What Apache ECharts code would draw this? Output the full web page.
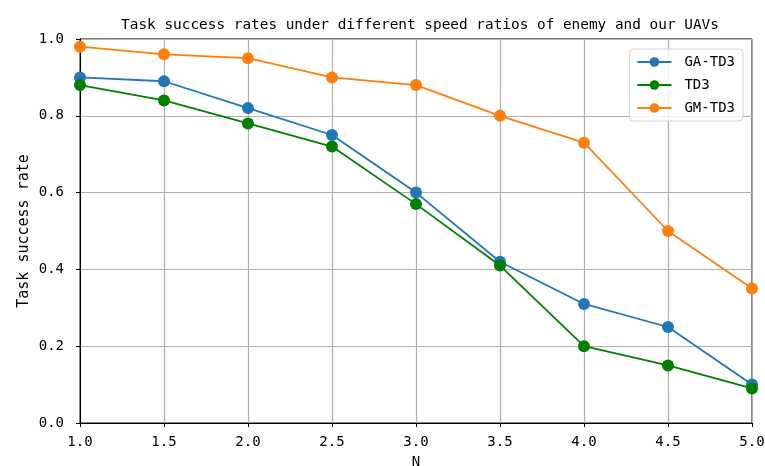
<!DOCTYPE html>
<html>
<head>
<meta charset="utf-8">
<script src="https://cdn.jsdelivr.net/npm/echarts@6/dist/echarts.min.js"></script>
<style>html,body{margin:0;padding:0;background:#fff;}#c{width:765px;height:466px;}</style>
</head>
<body>
<div id="c"></div>
<script>
const xValues = [1.0, 1.5, 2.0, 2.5, 3.0, 3.5, 4.0, 4.5, 5.0];
const gaTD3 = [0.90, 0.89, 0.82, 0.75, 0.60, 0.42, 0.31, 0.25, 0.10];
const td3 = [0.88, 0.84, 0.78, 0.72, 0.57, 0.41, 0.20, 0.15, 0.09];
const gmTD3 = [0.98, 0.96, 0.95, 0.90, 0.88, 0.80, 0.73, 0.50, 0.35];
const seriesNames = ['GA-TD3', 'TD3', 'GM-TD3'];
const seriesColors = ['#1f77b4', '#008000', '#ff7f0e'];
const titleText = 'Task success rates under different speed ratios of enemy and our UAVs';

const FONT = 'DejaVu Sans Mono';
const pair = arr => xValues.map((x, i) => [x, arr[i]]);
const chart = echarts.init(document.getElementById('c'), null, {renderer: 'canvas'});
const mk = (name, data, color) => ({
  name, type: 'line', data: pair(data),
  symbol: 'circle', symbolSize: 12,
  lineStyle: {color, width: 1.8},
  itemStyle: {color},
  emphasis: {disabled: true},
  clip: true,
  animation: false
});
chart.setOption({
  animation: false,
  title: {
    text: titleText, left: 415, top: 13, textAlign: 'center',
    textStyle: {fontFamily: FONT, fontSize: 14.4, fontWeight: 'normal', color: '#000'}
  },
  grid: {left: 80, right: 13, top: 39, bottom: 43, containLabel: false, outerBoundsMode: 'none',
         show: true, borderColor: '#000', borderWidth: 1, backgroundColor: 'transparent'},
  legend: {
    right: 22, top: 49, orient: 'vertical',
    data: seriesNames,
    itemWidth: 34, itemHeight: 12, itemGap: 9,
    padding: [6, 8, 6, 7],
    backgroundColor: 'rgba(255,255,255,0.8)',
    borderColor: '#d0d0d0', borderWidth: 1, borderRadius: 4,
    textStyle: {fontFamily: FONT, fontSize: 14, color: '#000', padding: [0, 0, 0, 8]}
  },
  xAxis: {
    type: 'value', min: 1, max: 5, interval: 0.5,
    name: 'N', nameLocation: 'middle', nameGap: 32, nameMoveOverlap: false,
    nameTextStyle: {fontFamily: FONT, fontSize: 14, color: '#000'},
    axisLine: {show: true, lineStyle: {color: '#000', width: 1}},
    axisTick: {show: true, length: 4, lineStyle: {color: '#000'}},
    axisLabel: {fontFamily: FONT, fontSize: 14, color: '#000', margin: 12, formatter: v => v.toFixed(1)},
    splitLine: {show: true, lineStyle: {color: '#b0b0b0', width: 1.2}}
  },
  yAxis: {
    type: 'value', min: 0, max: 1, interval: 0.2,
    name: 'Task success rate', nameLocation: 'middle', nameGap: 48, nameMoveOverlap: false,
    nameTextStyle: {fontFamily: FONT, fontSize: 15, color: '#000'},
    axisLine: {show: true, lineStyle: {color: '#000', width: 1}},
    axisTick: {show: true, length: 4, lineStyle: {color: '#000'}},
    axisLabel: {fontFamily: FONT, fontSize: 14, color: '#000', margin: 16, formatter: v => v.toFixed(1)},
    splitLine: {show: true, lineStyle: {color: '#b0b0b0', width: 1.2}}
  },
  series: [
    mk(seriesNames[0], gaTD3, seriesColors[0]),
    mk(seriesNames[1], td3, seriesColors[1]),
    mk(seriesNames[2], gmTD3, seriesColors[2])
  ]
});
</script>
</body>
</html>
